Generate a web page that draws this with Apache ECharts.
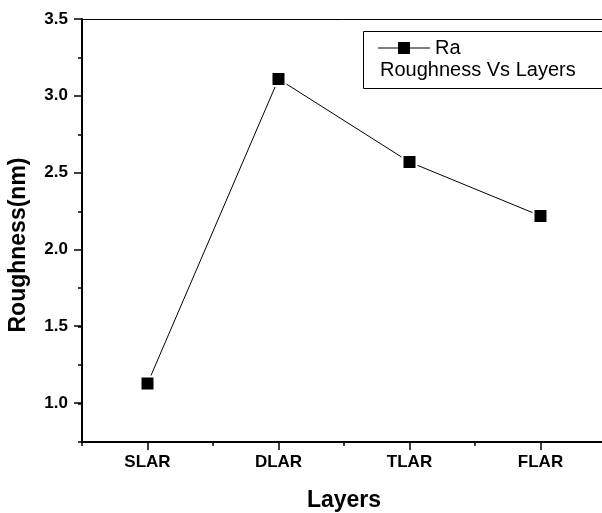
<!DOCTYPE html>
<html>
<head>
<meta charset="utf-8">
<script src="https://cdn.jsdelivr.net/npm/echarts@6/dist/echarts.min.js"></script>
<style>
html,body{margin:0;padding:0;background:#fff;}
#chart{width:602px;height:513px;}
</style>
</head>
<body>
<div id="chart"></div>
<script>
var categories = ['SLAR', 'DLAR', 'TLAR', 'FLAR'];
var raValues = [1.13, 3.11, 2.57, 2.22];
var seriesName = 'Ra';
var legendNote = 'Roughness Vs Layers';
var xTitle = 'Layers';
var yTitle = 'Roughness(nm)';
var yMin = 0.75, yMax = 3.5, yMinorStep = 0.25;
var yLabelMin = 1.0, yLabelStep = 0.5;

var FONT = 'Liberation Sans, Arial, Helvetica, sans-serif';
var chart = echarts.init(document.getElementById('chart'), null, {renderer: 'canvas'});

var option = {
  animation: false,
  backgroundColor: '#fff',
  grid: [
    {left: 82, right: -4, top: 19, bottom: 71, containLabel: false, outerBoundsMode: 'none'},
    {left: 82, right: -4, top: 19, height: 384, containLabel: false, outerBoundsMode: 'none'}
  ],
  xAxis: [
    {
      type: 'category', gridIndex: 0, position: 'bottom', data: categories, boundaryGap: true,
      axisLine: {show: true, lineStyle: {color: '#000', width: 2}},
      axisTick: {show: true, length: 4, inside: false, lineStyle: {color: '#000', width: 1.5}},
      axisLabel: {show: true, color: '#000', fontFamily: FONT, fontWeight: 'bold', fontSize: 17, margin: 12},
      splitLine: {show: false},
      name: xTitle, nameLocation: 'middle', nameGap: 47,
      nameTextStyle: {color: '#000', fontFamily: FONT, fontWeight: 'bold', fontSize: 23}
    },
    {
      type: 'category', gridIndex: 0, position: 'bottom', data: categories, boundaryGap: true,
      axisLine: {show: false},
      axisTick: {show: true, alignWithLabel: true, length: 8, lineStyle: {color: '#000', width: 1.5}},
      axisLabel: {show: false},
      splitLine: {show: false}
    },
    {
      type: 'category', gridIndex: 0, position: 'top', data: categories, boundaryGap: true,
      axisLine: {show: true, onZero: false, lineStyle: {color: '#000', width: 1}},
      axisTick: {show: false}, axisLabel: {show: false}, splitLine: {show: false}
    },
    {
      type: 'category', gridIndex: 1, data: categories, show: false
    }
  ],
  yAxis: [
    {
      type: 'value', gridIndex: 0, min: yMin, max: yMax, interval: yMinorStep,
      axisLine: {show: true, onZero: false, lineStyle: {color: '#000', width: 2}},
      axisTick: {show: true, length: 4, lineStyle: {color: '#000', width: 1.5}},
      axisLabel: {show: false},
      splitLine: {show: false}
    },
    {
      type: 'value', gridIndex: 1, min: yLabelMin, max: yMax, interval: yLabelStep,
      axisLine: {show: false},
      axisTick: {show: true, length: 8, lineStyle: {color: '#000', width: 1.5}},
      axisLabel: {show: true, color: '#000', fontFamily: FONT, fontWeight: 'bold', fontSize: 17, margin: 14,
        formatter: function (v) { return v.toFixed(1); }},
      splitLine: {show: false}
    }
  ],
  legend: {
    show: true, data: [{name: seriesName, icon: 'path://M0,5.5h20v1h-20z M20,0h12v12h-12z M32,5.5h20v1h-20z'}],
    left: 378, top: 38, orient: 'vertical',
    itemWidth: 52, itemHeight: 12, padding: 0,
    itemStyle: {color: '#000', borderWidth: 0},
    textStyle: {color: '#000', fontFamily: FONT, fontSize: 20}
  },
  graphic: [
    {type: 'rect', left: 361, top: 29, shape: {width: 239, height: 57},
      style: {fill: 'none', stroke: '#000', lineWidth: 1}, silent: true},
    {type: 'text', left: 380, top: 60,
      style: {text: legendNote, fill: '#000', font: '20px ' + FONT}},
    {type: 'text', x: 19, y: 245, rotation: Math.PI / 2,
      style: {text: yTitle, fill: '#000', font: 'bold 23px ' + FONT, align: 'center', verticalAlign: 'middle'}}
  ],
  series: [
    {
      name: seriesName, type: 'line', xAxisIndex: 0, yAxisIndex: 0, data: raValues,
      symbol: 'rect', symbolSize: 14,
      lineStyle: {color: '#000', width: 1},
      itemStyle: {color: '#000', borderColor: '#fff', borderWidth: 2}
    }
  ]
};
chart.setOption(option);
</script>
</body>
</html>
